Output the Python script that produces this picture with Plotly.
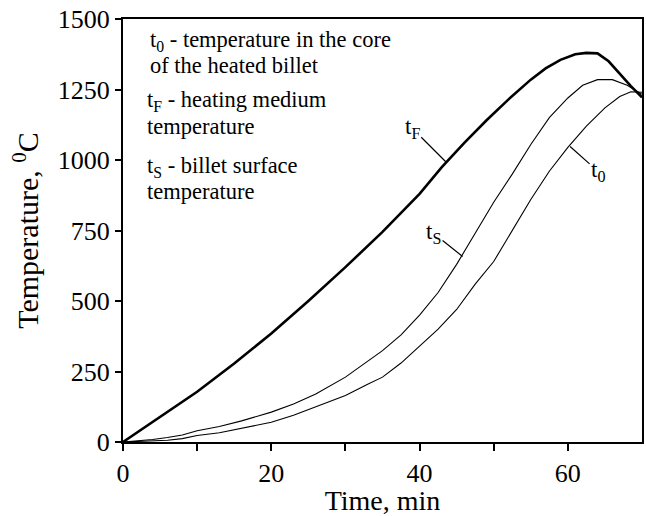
import plotly.graph_objects as go

# Heating medium temperature tF
tF_time = [0, 5, 10, 15, 20, 25, 30, 35, 40, 43, 46, 49, 52, 55, 57, 59, 61, 62.5, 64, 65.5, 67, 68.5, 70]
tF_temp = [0, 88, 178, 278, 385, 500, 620, 745, 880, 975, 1060, 1140, 1215, 1285, 1325, 1355, 1375, 1380, 1378, 1350, 1305, 1262, 1222]

# Billet surface temperature tS
tS_time = [0, 2, 4, 6, 8, 10, 13, 16, 20, 23, 26, 30, 33, 35, 37.5, 40, 42.5, 45, 47.5, 50, 52.5, 55, 57.5, 60, 62, 64, 66, 68, 70]
tS_temp = [0, 4, 9, 16, 25, 40, 55, 75, 106, 135, 170, 230, 285, 324, 380, 450, 530, 630, 740, 850, 950, 1055, 1150, 1220, 1265, 1285, 1285, 1265, 1233]

# Core temperature t0
t0_time = [0, 3, 6, 8, 10, 13, 16, 20, 23, 26, 30, 33, 35, 37.5, 40, 42.5, 45, 47.5, 50, 52.5, 55, 57.5, 60, 62.5, 65, 67, 68.5, 70]
t0_temp = [0, 2, 6, 12, 23, 33, 48, 70, 95, 125, 165, 205, 230, 280, 340, 400, 470, 560, 640, 750, 860, 960, 1045, 1120, 1185, 1225, 1242, 1240]

x_tick_vals = [0, 10, 20, 30, 40, 50, 60]
x_tick_text = ["0", "", "20", "", "40", "", "60"]
y_tick_vals = [0, 250, 500, 750, 1000, 1250, 1500]

legend_lines = [
    "t<sub>0</sub> - temperature in the core",
    "of the heated billet",
    "t<sub>F</sub> - heating medium",
    "temperature",
    "t<sub>S</sub> - billet surface",
    "temperature",
]

FONT = "Liberation Serif"

fig = go.Figure()
fig.add_trace(go.Scatter(x=tF_time, y=tF_temp, mode="lines",
                         line=dict(color="black", width=2.6), showlegend=False))
fig.add_trace(go.Scatter(x=tS_time, y=tS_temp, mode="lines",
                         line=dict(color="black", width=1.1), showlegend=False))
fig.add_trace(go.Scatter(x=t0_time, y=t0_temp, mode="lines",
                         line=dict(color="black", width=1.1), showlegend=False))

W, H = 646, 516
L, R, T, B = 123, 2, 19, 74
pw, ph = W - L - R, H - T - B

def px2paper(px, py):
    return (px - L) / pw, (H - B - py) / ph

# descriptive text block
line_pos = [(148, 41), (148, 65), (145, 101), (145, 126), (145, 167), (145, 191)]
for txt, (px, py) in zip(legend_lines, line_pos):
    xp, yp = px2paper(px, py)
    fig.add_annotation(x=xp, y=yp, xref="paper", yref="paper", text=txt,
                       showarrow=False, xanchor="left", yanchor="middle",
                       font=dict(family=FONT, size=22.5, color="black"))

# curve labels with leader lines
labels = [
    ("t<sub>F</sub>", 43.6, 992, -34, -34),
    ("t<sub>S</sub>", 45.8, 658, -29, -23),
    ("t<sub>0</sub>", 60.3, 1048, 28, 25),
]
for txt, xv, yv, ax, ay in labels:
    fig.add_annotation(x=xv, y=yv, xref="x", yref="y", text=txt,
                       showarrow=True, arrowhead=0, arrowwidth=1.2, arrowcolor="black",
                       ax=ax, ay=ay, standoff=0,
                       font=dict(family=FONT, size=23, color="black"))

fig.update_layout(
    width=W, height=H,
    margin=dict(l=L, r=R, t=T, b=B, pad=0),
    paper_bgcolor="white", plot_bgcolor="white",
    font=dict(family=FONT, color="black"),
    xaxis=dict(range=[0, 70], tickvals=x_tick_vals, ticktext=x_tick_text,
               ticks="outside", ticklen=7, tickwidth=2, tickcolor="black",
               showline=True, linewidth=2, linecolor="black", mirror=True,
               showgrid=False, zeroline=False,
               tickfont=dict(family=FONT, size=26, color="black"),
               title=dict(text="Time, min", font=dict(family=FONT, size=28, color="black"), standoff=3)),
    yaxis=dict(range=[0, 1500], tickvals=y_tick_vals,
               ticks="outside", ticklen=6, tickwidth=2, tickcolor="black",
               showline=True, linewidth=2, linecolor="black", mirror=True,
               showgrid=False, zeroline=False,
               tickfont=dict(family=FONT, size=26, color="black"),
               title=dict(text="Temperature, <sup>0</sup>C", font=dict(family=FONT, size=30, color="black"), standoff=10)),
)

fig.write_html("out.html")
